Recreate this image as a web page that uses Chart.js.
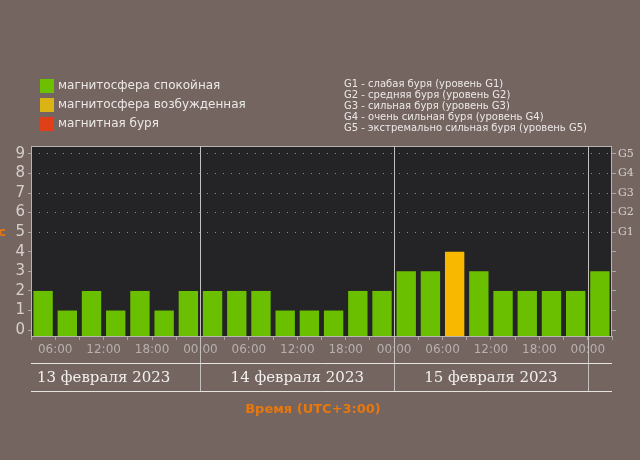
<!DOCTYPE html>
<html>
<head>
<meta charset="utf-8">
<script src="https://cdn.jsdelivr.net/npm/chart.js@4/dist/chart.umd.min.js"></script>
<style>
  html, body { margin: 0; padding: 0; background: #746561; }
  #wrap { width: 640px; height: 460px; }
</style>
</head>
<body>
<div id="wrap"><canvas id="kpChart" width="640" height="460"></canvas></div>
<script>
// slot start, hours from 13 Feb 00:00 (UTC+3)
const slotStarts = [3, 6, 9, 12, 15, 18, 21, 24, 27, 30, 33, 36, 39, 42, 45, 48, 51, 54, 57, 60, 63, 66, 69, 72]
const kpValues = [2, 1, 2, 1, 2, 1, 2, 2, 2, 2, 1, 1, 1, 2, 2, 3, 3, 4, 3, 2, 2, 2, 2, 3]
const dayLabels = ['13 февраля 2023', '14 февраля 2023', '15 февраля 2023']
const dayStarts = [0, 24, 48]
const dayBreaks = [24, 48, 72]
const yTicks = [0, 1, 2, 3, 4, 5, 6, 7, 8, 9]
const gLabels = ['G1', 'G2', 'G3', 'G4', 'G5']
const levelNames = ['магнитосфера спокойная', 'магнитосфера возбужденная', 'магнитная буря']
const levelColors = ['#6abf00', '#f8b800', '#e0401a']
const legendColors = ['#6cc000', '#dab314', '#e04018']
const gDescriptions = [
  'G1 - слабая буря (уровень G1)',
  'G2 - средняя буря (уровень G2)',
  'G3 - сильная буря (уровень G3)',
  'G4 - очень сильная буря (уровень G4)',
  'G5 - экстремально сильная буря (уровень G5)',
]
const xTitle = 'Время (UTC+3:00)'

function levelOf(kp) {
  if (kp >= 5) return 2
  if (kp >= 4) return 1
  return 0
}

const datasets = levelNames.map((name, lvl) => ({
  label: name,
  backgroundColor: levelColors[lvl],
  borderWidth: 0,
  base: -0.3,
  grouped: false,
  barPercentage: 0.8,
  categoryPercentage: 1,
  data: slotStarts.map((s, i) => ({ x: s + 1.5, y: levelOf(kpValues[i]) === lvl ? kpValues[i] : null })),
}))

const pad = (n) => (n < 10 ? '0' : '') + n

const decorations = {
  id: 'decorations',
  beforeDraw(chart) {
    const { ctx, chartArea: a } = chart
    ctx.save()
    ctx.fillStyle = '#746561'
    ctx.fillRect(0, 0, chart.width, chart.height)
    ctx.fillStyle = '#242426'
    ctx.fillRect(a.left, a.top, a.right - a.left, a.bottom - a.top)
    ctx.restore()
  },
  afterDraw(chart) {
    const { ctx, chartArea: a } = chart
    const x = chart.scales.x
    ctx.save()
    // frame
    ctx.strokeStyle = '#b8b4b2'
    ctx.lineWidth = 1
    ctx.strokeRect(a.left + 0.5, a.top + 0.5, a.right - a.left - 1, a.bottom - a.top)
    // day separators
    ctx.strokeStyle = '#c4c0be'
    dayBreaks.forEach((h) => {
      const px = Math.round(x.getPixelForValue(h)) + 0.5
      ctx.beginPath()
      ctx.moveTo(px, a.top)
      ctx.lineTo(px, 392)
      ctx.stroke()
    })
    // rows under the axis
    ctx.strokeStyle = '#e6e2e0'
    ;[363.5, 391.5].forEach((y) => {
      ctx.beginPath()
      ctx.moveTo(a.left, y)
      ctx.lineTo(a.right, y)
      ctx.stroke()
    })
    // day labels
    ctx.fillStyle = '#f2f0ee'
    ctx.font = '15px "DejaVu Serif"'
    ctx.textAlign = 'center'
    ctx.textBaseline = 'middle'
    dayLabels.forEach((d, i) => {
      ctx.fillText(d, x.getPixelForValue(dayStarts[i] + 12), 378)
    })
    // x title
    ctx.fillStyle = '#e8780c'
    ctx.font = 'bold 13px "DejaVu Sans"'
    ctx.fillText(xTitle, 313, 410)
    // y title (cut off at the left edge)
    ctx.textAlign = 'right'
    ctx.fillText('Kp-индекс', 6, 233)
    // legend
    ctx.textAlign = 'left'
    ctx.font = '12px "DejaVu Sans"'
    levelNames.forEach((name, i) => {
      const y = 79 + i * 19
      ctx.fillStyle = legendColors[i]
      ctx.fillRect(40, y, 14, 14)
      ctx.fillStyle = '#ece8e6'
      ctx.fillText(name, 58, y + 7)
    })
    ctx.font = '10px "DejaVu Sans"'
    ctx.fillStyle = '#ece8e6'
    gDescriptions.forEach((t, i) => {
      ctx.fillText(t, 344, 84 + i * 11.2)
    })
    ctx.restore()
  },
}

new Chart(document.getElementById('kpChart'), {
  type: 'bar',
  data: { datasets },
  options: {
    responsive: false,
    animation: false,
    events: [],
    layout: { padding: { top: 146, left: 0, right: 0, bottom: 0 } },
    plugins: { legend: { display: false }, title: { display: false }, tooltip: { enabled: false } },
    scales: {
      x: {
        type: 'linear',
        offset: false,
        min: 3,
        max: 75,
        afterFit: (s) => { s.height = 124 },
        afterBuildTicks: (s) => {
          s.ticks = slotStarts.concat([75]).map((v) => ({ value: v }))
        },
        grid: { offset: false, color: 'rgba(0,0,0,0)', tickColor: '#aaa6a4', tickLength: 4 },
        border: { display: false },
        ticks: {
          autoSkip: false,
          maxRotation: 0,
          padding: 3,
          color: '#b8b0ad',
          font: { family: 'DejaVu Sans', size: 12 },
          callback: (v) => (v % 6 === 0 ? pad(v % 24) + ':00' : ''),
        },
      },
      y: {
        position: 'left',
        min: -0.3,
        max: 9.4,
        afterFit: (s) => { s.width = 31 },
        afterBuildTicks: (s) => { s.ticks = yTicks.map((v) => ({ value: v })) },
        grid: {
          color: (c) => (c.tick && c.tick.value >= 5 ? '#8c8c8c' : 'rgba(0,0,0,0)'),
          tickColor: '#aaa6a4',
          tickLength: 3,
        },
        border: { display: false, dash: [1, 7] },
        ticks: {
          padding: 3,
          color: '#d6d0cd',
          font: { family: 'DejaVu Sans', size: 15 },
        },
      },
      g: {
        position: 'right',
        min: -0.3,
        max: 9.4,
        afterFit: (s) => { s.width = 28 },
        afterBuildTicks: (s) => { s.ticks = yTicks.map((v) => ({ value: v })) },
        grid: { drawOnChartArea: false, tickColor: '#aaa6a4', tickLength: 4 },
        border: { display: false },
        ticks: {
          padding: 2,
          color: '#d6d0cd',
          font: { family: 'DejaVu Serif', size: 11 },
          callback: (v) => (v >= 5 ? gLabels[v - 5] : ''),
        },
      },
    },
  },
  plugins: [decorations],
})
</script>
</body>
</html>
